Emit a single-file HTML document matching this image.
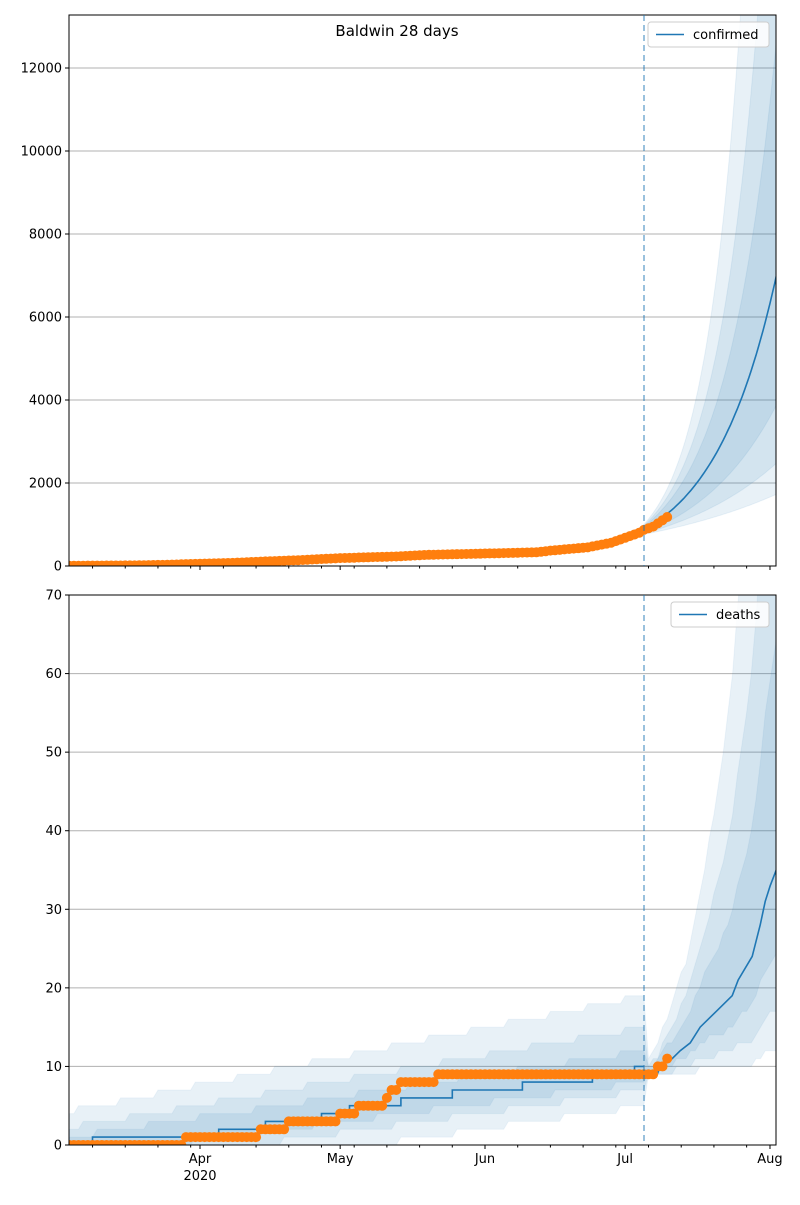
<!DOCTYPE html>
<html><head><meta charset="utf-8"><style>
body{margin:0;background:#fff;font-family:"Liberation Sans","DejaVu Sans",sans-serif}
svg text{font-family:"DejaVu Sans","Liberation Sans",sans-serif;font-size:13px;fill:#000}
</style></head><body>
<svg id="s" width="800" height="1200" xmlns="http://www.w3.org/2000/svg"></svg>
<script>
const S=document.getElementById('s');let h='';
const X=d=>200+4.672*(d-28);
const L=69,R=776;
function interp(pts,d){if(d<=pts[0][0])return pts[0][1];for(let i=1;i<pts.length;i++){if(d<=pts[i][0]){const a=pts[i-1],b=pts[i];return a[1]+(b[1]-a[1])*(d-a[0])/(b[0]-a[0]);}}return pts[pts.length-1][1];}
function area(up,lo,Y){let a='';up.forEach((q,i)=>{a+=(i?'L':'M')+X(q[0]).toFixed(1)+','+Y(q[1]).toFixed(1);});
for(let i=lo.length-1;i>=0;i--)a+='L'+X(lo[i][0]).toFixed(1)+','+Y(lo[i][1]).toFixed(1);return a+'Z';}
function line(p,Y,step){let a='';p.forEach((q,i)=>{const x=X(q[0]);if(step&&i>0)a+='L'+x.toFixed(1)+','+Y(p[i-1][1]).toFixed(1);a+=(i?'L':'M')+x.toFixed(1)+','+Y(q[1]).toFixed(1);});return a;}
function axes(top,bot,Y,ticks,clip){
 h+=`<clipPath id="${clip}"><rect x="${L}" y="${top}" width="${R-L}" height="${bot-top}"/></clipPath>`;
 ticks.forEach(t=>{const y=Y(t);if(t>0)h+=`<line x1="${L}" x2="${R}" y1="${y}" y2="${y}" stroke="#b0b0b0" stroke-width="1"/>`;h+=`<line x1="${L-4}" x2="${L}" y1="${y}" y2="${y}" stroke="#000"/><text x="${L-7}" y="${y+4.5}" text-anchor="end">${t}</text>`;});
}
function frame(top,bot,labelsX){
 h+=`<rect x="${L}" y="${top}" width="${R-L}" height="${bot-top}" fill="none" stroke="#000" stroke-width="1"/>`;
 for(let d=5;X(d)<=R+1;d+=7)h+=`<line x1="${X(d)}" x2="${X(d)}" y1="${bot}" y2="${bot+2.5}" stroke="#000"/>`;
 [[28,'Apr'],[58,'May'],[89,'Jun'],[119,'Jul'],[150,'Aug']].forEach(m=>{const x=X(m[0]);h+=`<line x1="${x}" x2="${x}" y1="${bot}" y2="${bot+4}" stroke="#000"/>`;if(labelsX)h+=`<text x="${x}" y="${bot+18}" text-anchor="middle">${m[1]}</text>`;});
 if(labelsX)h+=`<text x="${X(28)}" y="${bot+35}" text-anchor="middle">2020</text>`;
 h+=`<line x1="644" x2="644" y1="${top}" y2="${bot}" stroke="#1f77b4" stroke-opacity="0.6" stroke-width="1.5" stroke-dasharray="6,4"/>`;
}
// ---------- confirmed ----------
{const top=15,bot=566,Y=v=>566-v*0.0415;
axes(top,bot,Y,[0,2000,4000,6000,8000,10000,12000],'c1');
const obs=[[0,5],[14,15],[21,30],[28,55],[35,75],[42,110],[49,140],[58,190],[70,230],[77,270],[89,300],[100,330],[103,370],[111,450],[116,560],[119,680],[122,800],[123,870],[125,950],[128,1180]];
const med=d=>d<=123?interp(obs,d):870*Math.exp(0.0735*(d-123));
const bands=[[1.45,1.25],[0.95,0.92],[0.5,0.5]];
let g=`<g clip-path="url(#c1)">`;
bands.forEach(b=>{let up=[],lo=[];for(let d=0;d<=152;d+=0.5){const m=med(d);let s=d<=123?0:(d-123)/28;const w=0.06+0.05*b[0];up.push([d,m*Math.exp(w+b[0]*s)+5]);lo.push([d,m*Math.exp(-w-b[1]*s)]);}g+=`<path d="${area(up,lo,Y)}" fill="#1f77b4" fill-opacity="0.1" stroke="#1f77b4" stroke-opacity="0.08"/>`;});
let ml=[];for(let d=0;d<=152;d+=0.5)ml.push([d,med(d)]);
g+=`<path d="${line(ml,Y,false)}" fill="none" stroke="#1f77b4" stroke-width="1.6"/>`;
for(let d=0;d<=128;d++)g+=`<circle cx="${X(d)}" cy="${Y(interp(obs,d))}" r="5" fill="#ff7f0e"/>`;
h+=g+'</g>';frame(top,bot,false);
h+=`<text x="397" y="36" text-anchor="middle" style="font-size:15px">Baldwin 28 days</text>`;
h+=`<rect x="648" y="22" width="121" height="25" rx="3" fill="#fff" fill-opacity="0.85" stroke="#ccc"/><line x1="656" x2="684" y1="34.5" y2="34.5" stroke="#1f77b4" stroke-width="1.6"/><text x="693" y="39">confirmed</text>`;}
// ---------- deaths ----------
{const top=595,bot=1145,Y=v=>1145-v*7.857;
axes(top,bot,Y,[0,10,20,30,40,50,60,70],'c2');
const xd=x=>(x-69)/4.672;
const medH=[[0,0],[xd(90),1],[xd(215),2],[xd(262),3],[xd(318),4],[xd(345),5],[xd(398),6],[xd(450),7],[xd(518),8],[xd(588),9],[xd(630),10],[123,10]];
const medF=[[123,9],[xd(657),9],[xd(660),10],[xd(672),11],[xd(680),12],[xd(690),13],[xd(700),15],[xd(716),17],[xd(732),19],[xd(738),21],[xd(752),24],[xd(760),28],[xd(765),31],[xd(770),33],[152,36]];
const stepv=(pts,d)=>{let v=pts[0][1];for(const p of pts)if(p[0]<=d)v=p[1];return v;};
const med=d=>d<=123?stepv(medH,d):interp(medF,d);
const hUp=[d=>Math.round(4.3+14.7*d/123),d=>Math.round(2.2+12.8*d/123),d=>Math.round(1+11*d/123)];
const hLo=[d=>Math.round(Math.max(0,(d-65)*5/58)),d=>Math.round(Math.max(0,(d-40)*7/83)),d=>Math.round(Math.max(0,(d-20)*8/103))];
const fb=[[1.5,1.03],[1.0,0.7],[0.5,0.35]];
let g=`<g clip-path="url(#c2)">`;
for(let k=0;k<3;k++){let up=[],lo=[];for(let d=0;d<=123;d+=1){up.push([d,hUp[k](d)]);lo.push([d,hLo[k](d)]);}
 for(let d=124;d<=152;d+=1){const m=med(d);const s=(d-123)/28;up.push([d,Math.round(Math.max(m,9)*Math.exp(0.1+fb[k][0]*s)+(k==0?1:0))]);lo.push([d,Math.max(9,Math.round(m*Math.exp(-fb[k][1]*s)))]);}
 g+=`<path d="${area(up,lo,Y)}" fill="#1f77b4" fill-opacity="0.1" stroke="#1f77b4" stroke-opacity="0.06"/>`;}
let ml=[];for(let d=0;d<=123;d++)ml.push([d,med(d)]);
g+=`<path d="${line(ml,Y,true)}" fill="none" stroke="#1f77b4" stroke-width="1.6"/>`;
g+=`<path d="${line(medF,Y,false)}" fill="none" stroke="#1f77b4" stroke-width="1.6"/>`;
const ob=[[183,1],[258,2],[287,3],[338,4],[356,5],[386,6],[390,7],[398,8],[435,9],[658,10],[665,11]];
for(let d=0;d<=128;d++){const x=X(d);let v=0;for(const o of ob){if(x>=o[0]-1)v=o[1];}g+=`<circle cx="${x}" cy="${Y(v)}" r="5" fill="#ff7f0e"/>`;}
h+=g+'</g>';frame(top,bot,true);
h+=`<rect x="671" y="602" width="98" height="25" rx="3" fill="#fff" fill-opacity="0.85" stroke="#ccc"/><line x1="679" x2="707" y1="614.5" y2="614.5" stroke="#1f77b4" stroke-width="1.6"/><text x="716" y="619">deaths</text>`;}
S.innerHTML=h;
</script>
</body></html>
